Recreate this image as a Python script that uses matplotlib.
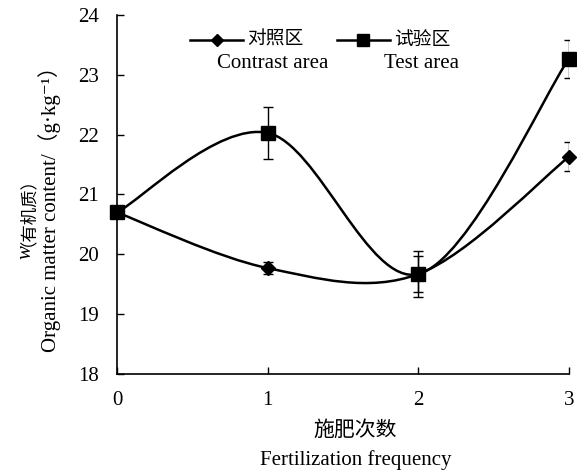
import numpy as np
import matplotlib
matplotlib.use("Agg")
import matplotlib.pyplot as plt
from matplotlib.path import Path
from matplotlib.patches import PathPatch
from matplotlib.lines import Line2D

plt.rcParams['font.family'] = ['Liberation Serif', 'DejaVu Serif', 'Noto Sans CJK SC']

# data
freq = [0, 1, 2, 3]
contrast = [20.70, 19.77, 19.67, 21.63]
contrast_err = [0.10, 0.10, 0.30, 0.24]
test = [20.70, 22.03, 19.67, 23.27]
test_err = [0.10, 0.44, 0.38, 0.32]
xticks = [0, 1, 2, 3]
yticks = [18, 19, 20, 21, 22, 23, 24]


def smooth_path(xs, ys):
    # Excel style smoothed line (Catmull-Rom -> cubic Bezier)
    p = np.column_stack([xs, ys]).astype(float)
    n = len(p)
    verts = [p[0]]
    codes = [Path.MOVETO]
    for i in range(n - 1):
        p0 = p[i - 1] if i > 0 else p[i]
        p3 = p[i + 2] if i + 2 < n else p[i + 1]
        c1 = p[i] + (p[i + 1] - p0) / 6.0
        c2 = p[i + 1] - (p3 - p[i]) / 6.0
        verts += [c1, c2, p[i + 1]]
        codes += [Path.CURVE4] * 3
    return Path(verts, codes)


fig = plt.figure(figsize=(5.77, 4.76), dpi=100)
ax = fig.add_axes([0.2028, 0.2143, 0.7832, 0.7542])

for ys, err, mk, ms in [(contrast, contrast_err, 'D', 7), (test, test_err, 's', 10)]:
    ax.add_patch(PathPatch(smooth_path(freq, ys), fill=False, edgecolor='black',
                           lw=1.8, zorder=2))
    ax.errorbar(freq, ys, yerr=err, fmt='none', ecolor='black', elinewidth=1,
                capsize=3.8, capthick=1, zorder=3)
    ax.plot(freq, ys, linestyle='none', marker=mk, ms=ms, color='black', zorder=4,
            clip_on=False)

ax.set_xlim(0, 3)
ax.set_ylim(18, 24)
ax.set_xticks(xticks)
ax.set_yticks(yticks)
ax.tick_params(direction='in', length=5, width=1, labelsize=15)
ax.tick_params(axis='y', pad=13)
ax.tick_params(axis='x', pad=12)
for s in ['top', 'right']:
    ax.spines[s].set_visible(False)
for s in ['left', 'bottom']:
    ax.spines[s].set_linewidth(1.2)

# axis titles
fig.text(0.615, 0.094, '施肥次数', ha='center', va='center', fontsize=15)
fig.text(0.617, 0.033, 'Fertilization frequency', ha='center', va='center', fontsize=15)
fig.text(0.045, 0.470, 'w', ha='center', va='center', rotation=90, fontsize=15,
         style='italic')
fig.text(0.031, 0.575, '（有机质）', ha='center', va='center', rotation=90, fontsize=12.5,
         family='Noto Sans CJK SC')
fig.text(0.086, 0.572, 'Organic matter content/（g·kg⁻¹）', ha='center', va='center',
         rotation=90, fontsize=15)

# legend
for x0, x1, mk, ms, cn, xe, en in [(0.1615, 0.279, 'D', 6, '对照区', 0.221, 'Contrast area'),
                                   (0.4867, 0.604, 's', 8, '试验区', 0.591, 'Test area')]:
    ax.add_line(Line2D([x0, x1], [0.930, 0.930], color='black', lw=1.8,
                       transform=ax.transAxes, clip_on=False))
    ax.plot([(x0 + x1) / 2], [0.930], marker=mk, ms=ms, color='black',
            transform=ax.transAxes, clip_on=False)
    ax.text(x1 + 0.008, 0.930, cn, transform=ax.transAxes, va='center', ha='left',
            fontsize=13.5)
    ax.text(xe, 0.866, en, transform=ax.transAxes, va='center', ha='left', fontsize=15)

fig.savefig('out.png', dpi=100)
